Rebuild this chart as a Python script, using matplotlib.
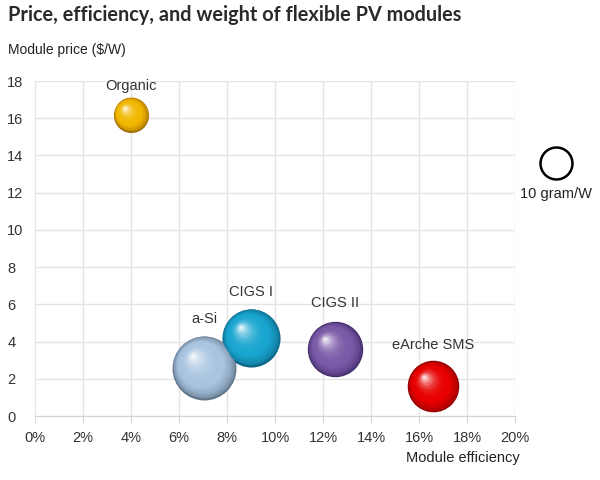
import numpy as np
import matplotlib
matplotlib.use('Agg')
import matplotlib.pyplot as plt
import matplotlib.transforms as mtransforms
from matplotlib.colors import to_rgb

plt.rcParams['font.family'] = ['Liberation Sans', 'DejaVu Sans']

# 數據
modules = ['Organic', 'a-Si', 'CIGS I', 'CIGS II', 'eArche SMS']
efficiency = [4.0, 7.05, 9.0, 12.5, 16.6]      # %
price = [16.2, 2.6, 4.2, 3.6, 1.6]             # $/W
weight = [12, 40, 33, 30, 26]                  # gram/W
colors = ['#f2b800', '#a8c4e0', '#1aa6d0', '#7b5aa8', '#e80000']
dark = ['#a06a00', '#5f7488', '#0b6486', '#3f2a66', '#8a0000']
x_ticks = list(range(0, 21, 2))
y_ticks = list(range(0, 19, 2))
ref_weight = 10

SIZE_PER_GRAM = 53.0   # scatter area (pt^2) per gram/W

fig = plt.figure(figsize=(6, 4.8), dpi=100)
ax = fig.add_axes([35/600, 64/480, 480/600, 335/480])

ax.set_xlim(0, 20)
ax.set_ylim(0, 18)
ax.set_xticks(x_ticks)
ax.set_yticks(y_ticks)
ax.set_xticklabels([f'{v}%' for v in x_ticks])
ax.grid(True, color='#e4e4e4', lw=1)
ax.set_axisbelow(True)
for s in ['top', 'right', 'left']:
    ax.spines[s].set_visible(False)
ax.spines['bottom'].set_color('#d0d0d0')
ax.tick_params(axis='x', length=5, color='#d8d8d8', pad=6, labelsize=10.5, labelcolor='#333333')
ax.tick_params(axis='y', length=0, pad=20, labelsize=10.5, labelcolor='#333333')
for lab in ax.get_yticklabels():
    lab.set_horizontalalignment('left')

# 球體（疊層 scatter 模擬 3D 陰影）
N = 30
for x, y, w, c, d in zip(efficiency, price, weight, colors, dark):
    s0 = SIZE_PER_GRAM * w
    r_pt = np.sqrt(s0) / 2
    c1, c0 = np.array(to_rgb(c)), np.array(to_rgb(d))
    for k in range(N):
        t = k / (N - 1)
        rad = r_pt * (1 - 0.94 * t)
        off = r_pt * 0.36 * t
        if t < 0.3:
            col = c0 + (c1 - c0) * (t / 0.3) ** 0.5
        else:
            u = (t - 0.3) / 0.7
            col = c1 + (np.ones(3) - c1) * 0.85 * u ** 2.6
        tr = mtransforms.offset_copy(ax.transData, fig=fig, x=-off, y=off, units='points')
        ax.scatter([x], [y], s=(2 * rad) ** 2, color=col, lw=0, transform=tr, zorder=3 + k * 0.01)

# 標籤
label_dy = [1.55, 2.6, 2.45, 2.45, 2.2]
for name, x, y, dy in zip(modules, efficiency, price, label_dy):
    ax.text(x, y + dy, name, ha='center', va='center', fontsize=10.5, color='#333333', zorder=5)

# 參考圓
ax.scatter([21.7], [13.6], s=SIZE_PER_GRAM * ref_weight, facecolor='white',
           edgecolor='black', lw=1.8, clip_on=False, zorder=5)
ax.text(21.7, 11.95, f'{ref_weight} gram/W', ha='center', va='center', fontsize=10.5,
        color='#222222', clip_on=False)

fig.text(8/600, 1 - 15/480, 'Price, efficiency, and weight of flexible PV modules',
         ha='left', va='center', fontsize=14.3, fontweight='bold', color='#2a2a2a',
         family=['Lato', 'DejaVu Sans'])
fig.text(8/600, 1 - 50/480, 'Module price ($/W)', ha='left', va='center',
         fontsize=10, color='#222222')
fig.text(520/600, 1 - 458/480, 'Module efficiency', ha='right', va='center',
         fontsize=10.5, color='#222222')

fig.savefig('out.png', dpi=100)
